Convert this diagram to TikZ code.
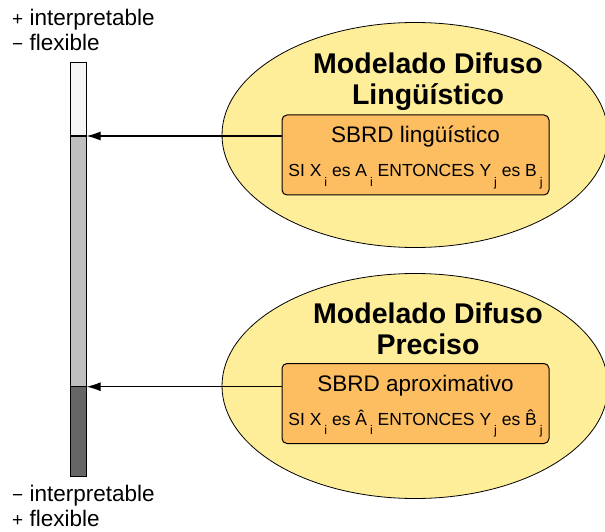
\documentclass[tikz,border=0pt]{standalone}
\usepackage{fontspec}
\setmainfont{Liberation Sans}
\usetikzlibrary{shapes.geometric, arrows.meta, positioning, calc}
\definecolor{elipsecolor}{RGB}{255,238,153}
\definecolor{boxcolor}{RGB}{253,190,98}
\newcommand{\idx}[1]{\hspace{3pt}\raisebox{-9.5pt}{\fontsize{12.5}{12.5}\selectfont #1}}
\newcommand{\signo}[1]{{\fontsize{19}{19}\selectfont #1}}

\begin{document}
\begin{tikzpicture}[x=1pt,y=1pt,
  elipse/.style={ellipse, draw=black, fill=elipsecolor, line width=0.8pt, minimum width=386pt, minimum height=225pt},
  titulo/.style={anchor=north, align=center, inner sep=0pt, font=\fontsize{28.5}{31}\selectfont\bfseries},
  sbrd/.style={draw=black, fill=boxcolor, rounded corners=5pt, line width=1pt, minimum width=267pt, minimum height=80pt, align=center, inner sep=0pt, font=\fontsize{22.5}{30}\selectfont},
  barra/.style={draw=black, line width=1.1pt, anchor=north, inner sep=0pt, outer sep=0pt, minimum width=16.5pt},
  flecha/.style={-{Latex[length=14pt,width=9pt]}, line width=1.1pt},
  etiqueta/.style={anchor=north west, align=left, inner sep=0pt, font=\fontsize{22.5}{25}\selectfont}]
\useasboundingbox (0,0) rectangle (605,531);

% barra de interpretabilidad
\node[barra, fill=black!4, minimum height=73.3pt] (bartop) at (78.35,468.3) {};
\node[barra, fill=black!25, minimum height=250.7pt, below=0pt of bartop] (barmid) {};
\node[barra, fill=black!60, minimum height=90pt, below=0pt of barmid] (barbot) {};
\node[etiqueta] (arriba) at (12,522.5) {\signo{+} interpretable\\\signo{\textminus} flexible};
\node[etiqueta] (abajo) at (12,46.5) {\signo{\textminus} interpretable\\\signo{+} flexible};

% modelado linguistico
\node[elipse] (lingui) at (415,396) {};
\node[titulo] (tling) at (428,478.5) {Modelado Difuso\\Lingüístico};
\node[sbrd] (bling) at (415.5,376) {\rule{0pt}{22pt}SBRD lingüístico\\[4pt]{\fontsize{17.5}{20}\selectfont SI X\idx{i} es A\idx{i} ENTONCES Y\idx{j} es B\idx{j}}};

% modelado preciso
\node[elipse] (precis) at (415,145) {};
\node[titulo] (tprec) at (428,228.5) {Modelado Difuso\\Preciso};
\node[sbrd] (bprec) at (415.5,127.5) {\rule{0pt}{22pt}SBRD aproximativo\\[4pt]{\fontsize{17.5}{20}\selectfont SI X\idx{i} es \^{A}\idx{i} ENTONCES Y\idx{j} es \^{B}\idx{j}}};

\draw[flecha] (barmid.north east -| bling.west) -- (barmid.north east);
\draw[flecha] (barmid.south east -| bprec.west) -- (barmid.south east);
\end{tikzpicture}
\end{document}
